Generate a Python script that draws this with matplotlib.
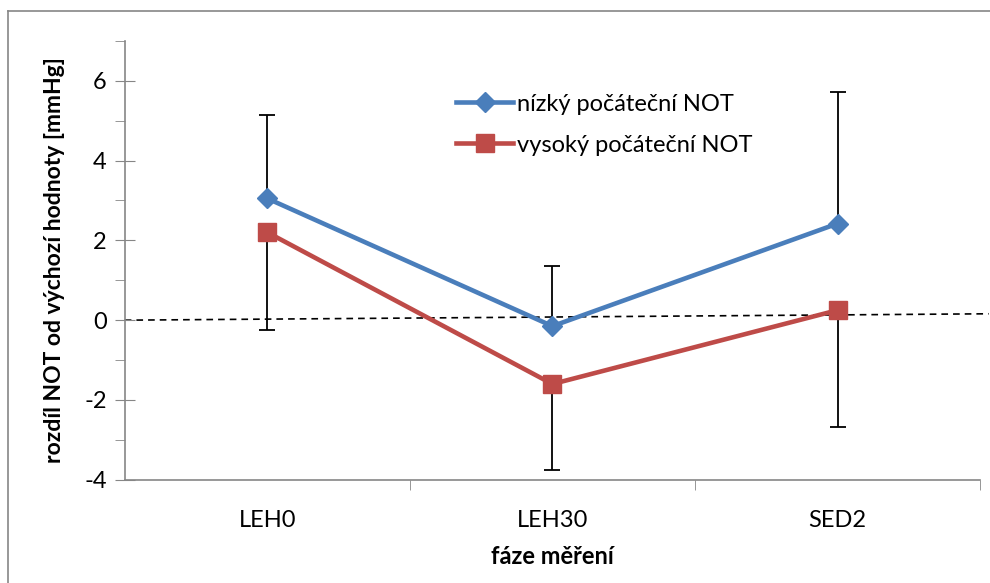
import numpy as np
import matplotlib
matplotlib.use('Agg')
import matplotlib.pyplot as plt
from matplotlib.lines import Line2D

# data
categories = ['LEH0', 'LEH30', 'SED2']
low_not = [3.05, -0.15, 2.42]
high_not = [2.2, -1.6, 0.25]
low_err_up = [2.1, 1.5, 3.3]
high_err_down = [2.45, 2.15, 2.93]
ref_x = [0.5, 3.53]
ref_y = [0.0, 0.16]

plt.rcParams['font.family'] = ['Lato', 'DejaVu Sans']
plt.rcParams['axes.unicode_minus'] = False

blue = '#4A7EBB'
red = '#BE4B48'
grey = '#868686'

fig = plt.figure(figsize=(9.9, 5.83), dpi=100)
ax = fig.add_axes([0.126, 0.177, 0.864, 0.753])

x = np.arange(1, len(categories) + 1)

# referenční čára (nula)
ax.plot(ref_x, ref_y, color='black', linestyle=(0, (4, 3)), linewidth=1.2,
        clip_on=False, zorder=1)

# chybové úsečky
ax.errorbar(x, low_not, yerr=[np.zeros(3), low_err_up], fmt='none',
            ecolor='black', elinewidth=1.3, capsize=6, capthick=1.3, zorder=2)
ax.errorbar(x, high_not, yerr=[high_err_down, np.zeros(3)], fmt='none',
            ecolor='black', elinewidth=1.3, capsize=6, capthick=1.3, zorder=2)

ax.plot(x, low_not, color=blue, linewidth=3.3, marker='D', markersize=10,
        label='nízký počáteční NOT', zorder=3)
ax.plot(x, high_not, color=red, linewidth=3.3, marker='s', markersize=13,
        label='vysoký počáteční NOT', zorder=3)

ax.set_xlim(0.5, 3.5)
ax.set_ylim(-4, 7)
ax.set_yticks([-4, -2, 0, 2, 4, 6])
ax.set_yticks([-3, -1, 1, 3, 5, 7], minor=True)
ax.set_xticks(x)
ax.set_xticklabels(categories)
ax.set_xticks([1.5, 2.5, 3.5], minor=True)

ax.tick_params(axis='y', which='major', direction='inout', length=14,
               color=grey, labelsize=17, pad=6)
ax.tick_params(axis='y', which='minor', direction='out', length=7, color=grey)
ax.tick_params(axis='x', which='major', length=0, labelsize=17, pad=22)
ax.tick_params(axis='x', which='minor', direction='out', length=7, color=grey)

for s in ['top', 'right']:
    ax.spines[s].set_visible(False)
for s in ['left', 'bottom']:
    ax.spines[s].set_color(grey)
    ax.spines[s].set_linewidth(1.2)

ax.set_ylabel('rozdíl NOT od výchozí hodnoty [mmHg]', fontsize=16.5,
              fontweight='bold', labelpad=14)
ax.set_xlabel('fáze měření', fontsize=17, fontweight='bold', labelpad=10)

leg = ax.legend(loc='upper left', bbox_to_anchor=(0.363, 0.928), frameon=False,
                fontsize=17, handlelength=2.4, handletextpad=0.15,
                labelspacing=0.85)

# rámeček grafu
fig.add_artist(Line2D([8 / 990, 8 / 990], [0, 1 - 11 / 583], color=grey,
                      linewidth=1.2, transform=fig.transFigure))
fig.add_artist(Line2D([8 / 990, 1], [1 - 11 / 583, 1 - 11 / 583], color=grey,
                      linewidth=1.2, transform=fig.transFigure))

plt.savefig('out.png', dpi=100)
plt.close()
